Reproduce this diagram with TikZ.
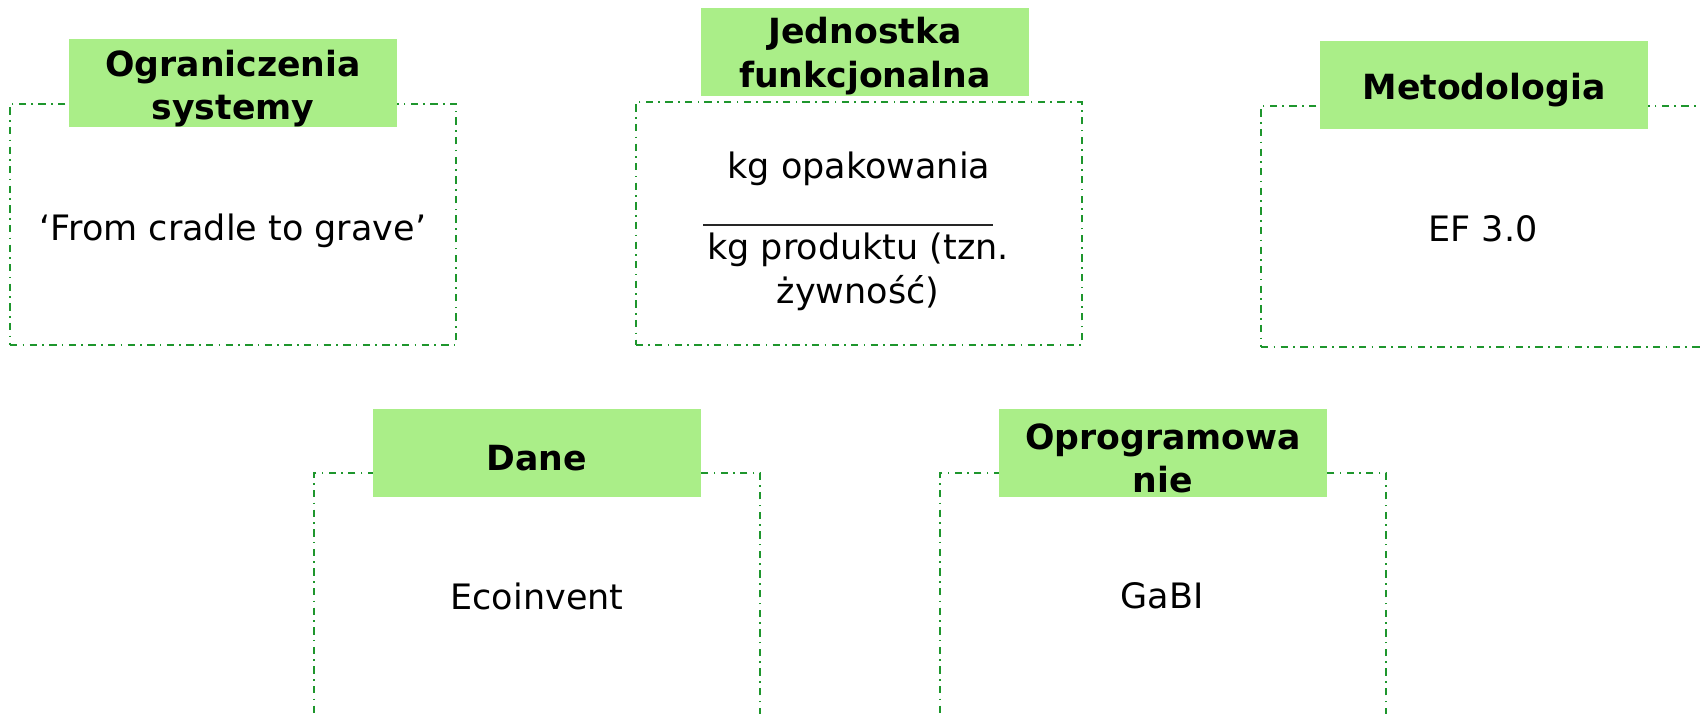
\documentclass[tikz,border=0pt]{standalone}
\usepackage{fontspec}
\setmainfont{DejaVu Sans}
\definecolor{labelgreen}{RGB}{170,238,136}
\definecolor{framegreen}{RGB}{30,150,45}
\begin{document}
\begin{tikzpicture}[x=0.75pt,y=-0.75pt,
  frame/.style={draw=framegreen, line width=1.5pt, dash pattern=on 5.5pt off 4pt on 1.2pt off 4pt,
     minimum width=334.5pt, minimum height=181pt, inner sep=0pt},
  labelbox/.style={fill=labelgreen, minimum width=246pt, minimum height=66pt, inner sep=0pt},
  labeltext/.style={align=center, inner sep=0pt, font=\fontsize{26}{32.5}\selectfont\bfseries},
  body/.style={align=center, font=\fontsize{26.25}{32.5}\selectfont, inner sep=0pt}]
\useasboundingbox (0,0) rectangle (1700,714);
\clip (0,0) rectangle (1700,714);
% frames
\node[frame] (f1) at (233,224.5) {};
\node[frame, minimum height=182pt] (f2) at (858.5,223.5) {};
\node[frame] (f3) at (1484,226.5) {};
\node[frame, minimum height=200pt] (f4) at (537,606) {};
\node[frame, minimum height=200pt] (f5) at (1163,606) {};
% label boxes
\node[labelbox] (b1) at (233,83) {};
\node[labelbox] (b2) at (865,52) {};
\node[labelbox] (b3) at (1484,85) {};
\node[labelbox] (b4) at (537,453) {};
\node[labelbox] (b5) at (1163,453) {};
% label texts
\node[labeltext] (l1) at ([yshift=-4pt]b1.center) {Ograniczenia\\systemy};
\node[labeltext] (l2) at ([yshift=-3pt]b2.center) {Jednostka\\funkcjonalna};
\node[labeltext] (l3) at ([yshift=-3.5pt]b3.center) {Metodologia};
\node[labeltext] (l4) at ([yshift=-3.5pt]b4.center) {Dane};
\node[labeltext] (l5) at ([yshift=-4pt]b5.center) {Oprogramowa\\nie};
% bodies
\node[body] (t1) at (233,231) {‘From cradle to grave’};
\node[body] (t2a) at (859,169) {kg opakowania};
\coordinate (r1) at (703,225);
\coordinate (r2) at (993,225);
\draw[line width=1.3pt, black!85] (r1) -- (r2);
\node[body] (t2b) at (858,272) {kg produktu (tzn.\\żywność)};
\node[body] (t3) at (1483,229) {EF 3.0};
\node[body] (t4) at (537,596) {Ecoinvent};
\node[body] (t5) at (1162,596) {GaBI};
\end{tikzpicture}
\end{document}
